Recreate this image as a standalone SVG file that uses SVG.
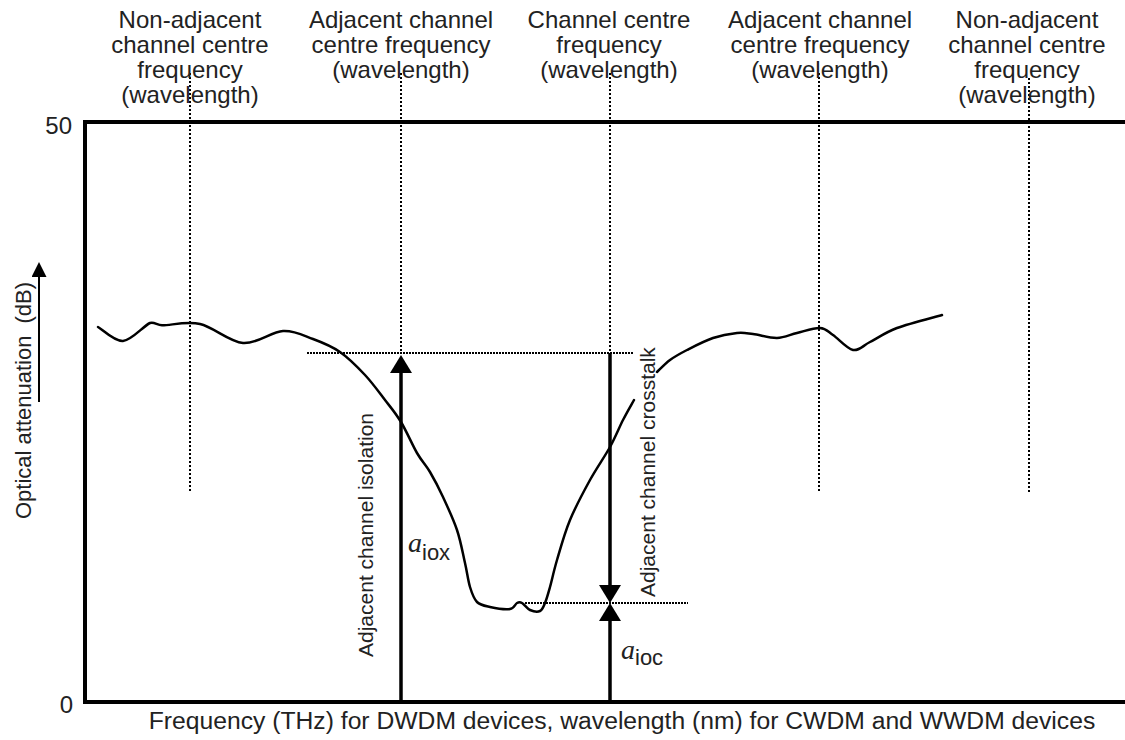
<svg xmlns="http://www.w3.org/2000/svg" width="1125" height="740" viewBox="0 0 1125 740">
<defs>
<style>
.t{font-family:"Liberation Sans",Arial,sans-serif;fill:#222;}
.lab{font-size:24px;text-anchor:middle;}
.rot{font-size:21px;}
.it{font-family:"Liberation Serif","Times New Roman",serif;font-style:italic;font-size:28px;fill:#222;}
.sub{font-size:22px;}
.dv{stroke:#000;stroke-width:2;stroke-dasharray:2 2;fill:none;}
.dh{stroke:#000;stroke-width:2;stroke-dasharray:2 1;fill:none;}
.ar{stroke:#000;stroke-width:3.5;fill:none;}
.cv{stroke:#000;stroke-width:2.5;fill:none;stroke-linejoin:round;stroke-linecap:round;}
</style>
<marker id="tri" markerUnits="userSpaceOnUse" markerWidth="18" markerHeight="22" viewBox="0 0 18 22" refX="0" refY="11" orient="auto">
<path d="M0,0 L18,11 L0,22 Z" fill="#000"/>
</marker>
<marker id="triS" markerUnits="userSpaceOnUse" markerWidth="15" markerHeight="15" viewBox="0 0 15 15" refX="0" refY="7.5" orient="auto">
<path d="M0,0 L15,7.5 L0,15 Z" fill="#000"/>
</marker>
</defs>
<rect width="1125" height="740" fill="#fff"/>

<g id="axes">
<path d="M1125,122 H85 V702 H1125" stroke="#000" stroke-width="4" fill="none"/>
<text class="t" x="72" y="134" font-size="24" text-anchor="end">50</text>
<text class="t" x="73" y="713" font-size="24" text-anchor="end">0</text>
<text class="t" x="622" y="729" font-size="24.7" text-anchor="middle">Frequency (THz) for DWDM devices, wavelength (nm) for CWDM and WWDM devices</text>
<text class="t" x="31" y="519" font-size="22" transform="rotate(-90 31 519)">Optical attenuation<tspan dx="12">(dB)</tspan></text>
<line x1="39" y1="402" x2="39" y2="277" stroke="#000" stroke-width="2" marker-end="url(#triS)"/>
</g>

<g id="connectors">
<line class="dv" x1="190" y1="73" x2="190" y2="492"/>
<line class="dv" x1="401" y1="73" x2="401" y2="353"/>
<line class="dv" x1="610" y1="73" x2="610" y2="353"/>
<line class="dv" x1="819" y1="73" x2="819" y2="492"/>
<line class="dv" x1="1029" y1="78" x2="1029" y2="492"/>
<line class="dh" x1="307" y1="353" x2="634" y2="353"/>
<line class="dh" x1="525" y1="603" x2="688" y2="603"/>
<line class="ar" x1="401" y1="703" x2="401" y2="373" marker-end="url(#tri)"/>
<line class="ar" x1="610" y1="353" x2="610" y2="585" marker-end="url(#tri)"/>
<line class="ar" x1="610" y1="703" x2="610" y2="621" marker-end="url(#tri)"/>
</g>

<g id="curve">
<path class="cv" d="M98,327 C102.2,329.3 114.3,341.7 123,341 C131.7,340.3 143.8,325.7 150,323 C154,321.5 157,325 162,325.3 C170,325.5 186.5,321 200,324 C213.5,327 229.2,341.8 243,343 C256.8,344.2 271.3,331.7 283,331 C294.7,330.3 303.5,335.5 313,339 C322.5,342.5 331.3,346 340,352 C348.7,358 357.5,367 365,375 C372.5,383 379,392.2 385,400 C391,407.8 395.7,413.2 401,422 C406.3,430.8 412.2,444.7 417,453 C421.8,461.3 425.7,464.7 430,472 C434.3,479.3 438.5,487.3 443,497 C447.5,506.7 453.3,519 457,530 C460.7,541 462.8,553.5 465,563 C467.2,572.5 468,580.5 470,587 C472,593.5 473.7,598.7 477,602 C480.3,605.3 484.5,605.8 490,607 C495.5,608.2 505.5,609.7 510,609 C514.5,608.3 515,604 517,603 C519,602 519.8,601.8 522,603 C524.2,604.2 527,608.7 530,610 C533,611.3 537.5,612.2 540,611 C542.5,609.8 543.3,607 545,603 C546.7,599 548,594.2 550,587 C552,579.8 553.7,571.2 557,560 C560.3,548.8 564.5,533.3 570,520 C575.5,506.7 583.3,492.2 590,480 C596.7,467.8 604.5,457 610,447 C615.5,437 619,427.8 623,420 C627,412.2 632.2,403.3 634,400"/>
<path class="cv" d="M657,372 C659.2,370 665,363.7 670,360 C675,356.3 679.8,353.7 687,350 C694.2,346.3 704.7,340.8 713,338 C721.3,335.2 730.3,333.7 737,333 C743.7,332.3 746.3,333.2 753,334 C759.7,334.8 769.7,338.2 777,338 C784.3,337.8 789.8,334.7 797,333 C804.2,331.3 814,327.7 820,328 C826,328.3 827.5,331.3 833,335 C838.5,338.7 846.8,348.8 853,350 C859.2,351.2 862.7,345.7 870,342 C877.3,338.3 885,332.5 897,328 C909,323.5 934.5,317.2 942,315"/>
</g>

<g id="label-nonadj-left">
<text class="t lab" x="190" y="28">Non-adjacent</text>
<text class="t lab" x="190" y="53">channel centre</text>
<text class="t lab" x="190" y="78">frequency</text>
<text class="t lab" x="190" y="103">(wavelength)</text>
</g>
<g id="label-adj-left">
<text class="t lab" x="401" y="28">Adjacent channel</text>
<text class="t lab" x="401" y="53">centre frequency</text>
<text class="t lab" x="401" y="78">(wavelength)</text>
</g>
<g id="label-centre">
<text class="t lab" x="609" y="28">Channel centre</text>
<text class="t lab" x="609" y="53">frequency</text>
<text class="t lab" x="609" y="78">(wavelength)</text>
</g>
<g id="label-adj-right">
<text class="t lab" x="820" y="28">Adjacent channel</text>
<text class="t lab" x="820" y="53">centre frequency</text>
<text class="t lab" x="820" y="78">(wavelength)</text>
</g>
<g id="label-nonadj-right">
<text class="t lab" x="1027" y="28">Non-adjacent</text>
<text class="t lab" x="1027" y="53">channel centre</text>
<text class="t lab" x="1027" y="78">frequency</text>
<text class="t lab" x="1027" y="103">(wavelength)</text>
</g>

<g id="label-isolation">
<text class="t rot" x="373" y="657" transform="rotate(-90 373 657)">Adjacent channel isolation</text>
<text x="408" y="552"><tspan class="it">a</tspan><tspan class="t sub" dy="8">iox</tspan></text>
</g>
<g id="label-crosstalk">
<text class="t rot" x="655" y="597" transform="rotate(-90 655 597)">Adjacent channel crosstalk</text>
<text x="621" y="659"><tspan class="it">a</tspan><tspan class="t sub" dy="6">ioc</tspan></text>
</g>
</svg>
